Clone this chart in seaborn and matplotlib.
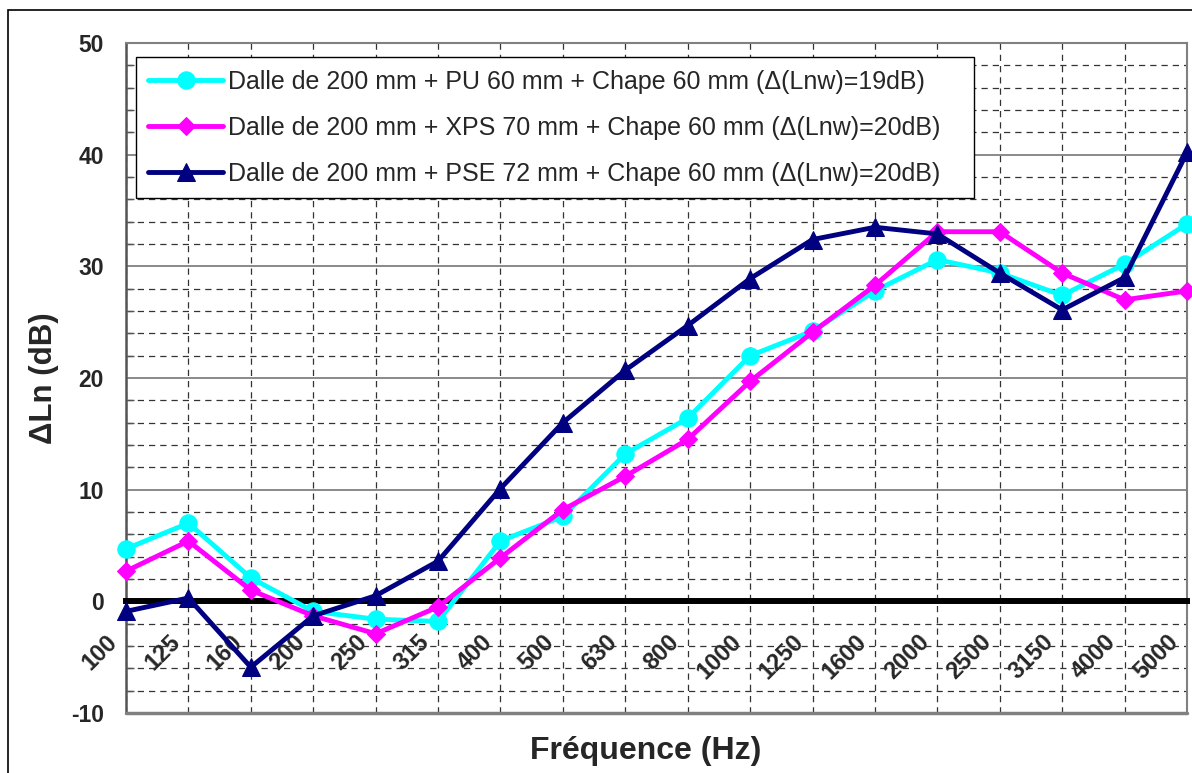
import numpy as np
import pandas as pd
import matplotlib
matplotlib.use("Agg")
import matplotlib.pyplot as plt
from matplotlib.patches import Rectangle
from matplotlib.ticker import MultipleLocator
from matplotlib.transforms import ScaledTranslation
import seaborn as sns

freqs = ["100", "125", "160", "200", "250", "315", "400", "500", "630", "800",
         "1000", "1250", "1600", "2000", "2500", "3150", "4000", "5000"]
pu = [4.7, 7.0, 2.1, -0.9, -1.6, -1.8, 5.4, 7.6, 13.2, 16.4,
      22.0, 24.2, 27.8, 30.6, 29.4, 27.4, 30.2, 33.8]
xps = [2.7, 5.4, 1.0, -1.3, -2.9, -0.5, 3.9, 8.2, 11.2, 14.5,
       19.7, 24.1, 28.3, 33.1, 33.1, 29.4, 27.0, 27.8]
pse = [-0.9, 0.3, -5.9, -1.3, 0.5, 3.6, 10.1, 16.0, 20.7, 24.7,
       28.9, 32.4, 33.5, 32.9, 29.4, 26.1, 29.0, 40.2]
labels = ["Dalle de 200 mm + PU 60 mm + Chape 60 mm (\u0394(Lnw)=19dB)",
          "Dalle de 200 mm + XPS 70 mm + Chape 60 mm (\u0394(Lnw)=20dB)   ",
          "Dalle de 200 mm + PSE 72 mm + Chape 60 mm (\u0394(Lnw)=20dB)"]
colors = ["#00FFFF", "#FF00FF", "#000080"]
markers = ["o", "D", "^"]
msizes = [12.5, 9.5, 12.5]

sns.set_style("white")
plt.rcParams["font.family"] = ["Liberation Sans", "DejaVu Sans"]
plt.rcParams["axes.unicode_minus"] = False

fig = plt.figure(figsize=(11.92, 7.73), dpi=100)
ax = fig.add_axes([126 / 1192, 1 - 713 / 773, (1187 - 126) / 1192, (713 - 43) / 773])

# spine layout first (setting position resets tick styling)
ax.spines["bottom"].set_position(("data", 0))

xs = np.arange(len(freqs))
for vals, lab, col, mk, ms in zip([pu, xps, pse], labels, colors, markers, msizes):
    df = pd.DataFrame({"x": xs, "y": vals})
    sns.lineplot(data=df, x="x", y="y", ax=ax, color=col, linewidth=3.5,
                 marker=mk, markersize=ms, markeredgecolor=col, label=lab,
                 clip_on=False, zorder=5)

ax.set_xlim(0, len(freqs) - 1)
ax.set_ylim(-10, 50)
ax.yaxis.set_major_locator(MultipleLocator(10))
ax.yaxis.set_minor_locator(MultipleLocator(2))
ax.set_xticks(xs)
ax.set_yticks([-10, 0, 10, 20, 30, 40, 50])
ax.set_yticklabels(["-10", "0", "10", "20", "30", "40", "50"],
                   fontweight="bold", fontsize=16.5)

# grids
ax.grid(which="major", axis="y", color="#808080", linewidth=1.3, linestyle="-", zorder=0)
ax.grid(which="minor", axis="y", color="#333333", linewidth=0.9, linestyle=(0, (5, 4)), zorder=0)
ax.grid(which="major", axis="x", color="#333333", linewidth=0.9, linestyle=(0, (5, 4)), zorder=0)
ax.set_axisbelow(True)

# spines
ax.spines["bottom"].set_color("black")
ax.spines["bottom"].set_linewidth(4.3)
ax.spines["bottom"].set_zorder(4)
ax.spines["left"].set_color("#555555")
ax.spines["left"].set_linewidth(1.8)
for s in ["top", "right"]:
    ax.spines[s].set_color("#808080")
    ax.spines[s].set_linewidth(1.5)
ax.axhline(-10, color="#808080", linewidth=2.5, clip_on=False, zorder=3)

ax.tick_params(axis="x", which="major", direction="out", length=6, width=3.5,
               color="black", pad=12)
ax.tick_params(axis="y", which="major", direction="out", length=8, width=1.2,
               color="#555555", pad=8)
ax.tick_params(axis="y", which="minor", direction="in", length=6, width=1,
               color="#555555", left=True)

ax.set_xticklabels(freqs, rotation=45, ha="right", va="center",
                   rotation_mode="anchor", fontweight="bold", fontsize=17)
offset = ScaledTranslation(-0.12, -0.12, fig.dpi_scale_trans)
for t in ax.get_xticklabels():
    t.set_transform(t.get_transform() + offset)

ax.set_xlabel("Fréquence (Hz)", fontsize=23, fontweight="bold")
ax.xaxis.set_label_coords(0.49, -0.034)
ax.xaxis.label.set_va("top")
ax.set_ylabel("\u0394Ln (dB)", fontsize=22.5, fontweight="bold")
ax.yaxis.set_label_coords(-0.063, 0.5)

leg = ax.legend(loc="upper left", bbox_to_anchor=(0.0094, 0.979), fontsize=18,
                frameon=True, fancybox=False, edgecolor="black", framealpha=1,
                handlelength=3.0, borderpad=0.5, labelspacing=0.88,
                borderaxespad=0, handletextpad=0.2)
leg.get_frame().set_linewidth(1.0)
leg.set_zorder(6)

fig.patches.append(Rectangle((8 / 1192, -0.01), 1.1, 1 - 10 / 773 + 0.01,
                             transform=fig.transFigure, fill=False,
                             edgecolor="black", linewidth=1.2))

fig.savefig("out.png", dpi=100)
